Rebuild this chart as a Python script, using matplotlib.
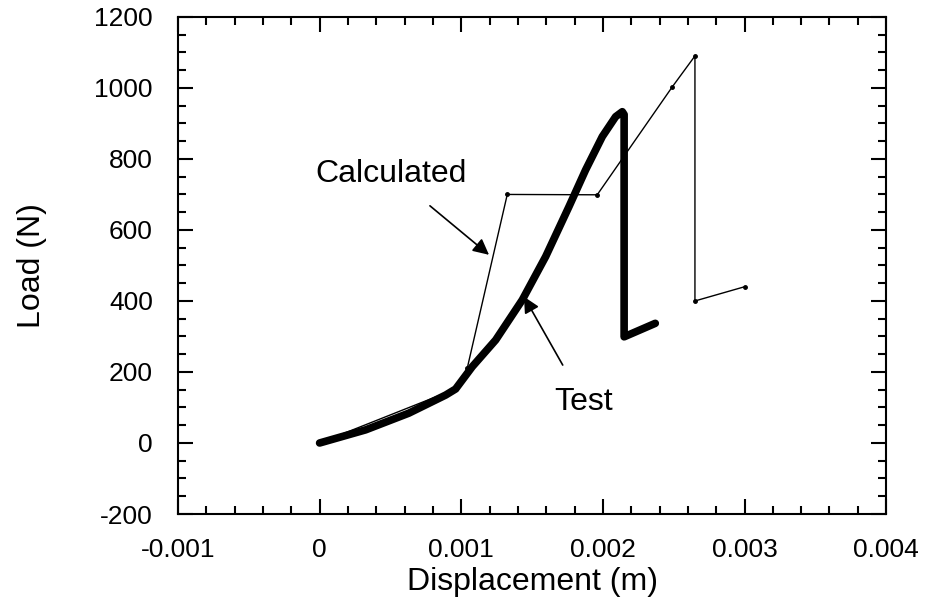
import matplotlib
matplotlib.use("Agg")
import matplotlib.pyplot as plt
from matplotlib.ticker import MultipleLocator

plt.rcParams['font.family'] = ['Liberation Sans', 'DejaVu Sans']

# test curve (thick)
test_x = [0.0, 0.000325, 0.00063, 0.00089, 0.00096, 0.001078, 0.001243, 0.001431, 0.001596,
          0.001761, 0.001878, 0.001996, 0.00209, 0.002137, 0.00215, 0.00215, 0.00237]
test_y = [0, 37, 84, 135, 152, 215, 290, 403, 525, 666, 769, 863, 919, 933, 925, 299, 337]

# calculated curve (thin)
calc_x = [0.0, 0.00096, 0.001042, 0.001325, 0.00196, 0.00249, 0.00265, 0.00265, 0.00300]
calc_y = [0, 152, 210, 700, 699, 1003, 1090, 400, 440]

xticks = [-0.001, 0, 0.001, 0.002, 0.003, 0.004]
xlabels = ['-0.001', '0', '0.001', '0.002', '0.003', '0.004']
yticks = [-200, 0, 200, 400, 600, 800, 1000, 1200]

fig = plt.figure(figsize=(9.25, 6.04), dpi=100)
ax = fig.add_axes([0.1924, 0.149, 0.7656, 0.823])

ax.plot(calc_x, calc_y, color='black', lw=1.0, marker='o', ms=2.5)
ax.plot(test_x, test_y, color='black', lw=5.5, solid_capstyle='round', solid_joinstyle='round')

ax.set_xlim(-0.001, 0.004)
ax.set_ylim(-200, 1200)
ax.set_xticks(xticks)
ax.set_xticklabels(xlabels)
ax.set_yticks(yticks)
ax.set_yticklabels([str(v) for v in yticks])
ax.xaxis.set_minor_locator(MultipleLocator(0.0002))
ax.yaxis.set_minor_locator(MultipleLocator(50))

ax.tick_params(which='both', direction='in', top=True, right=True, width=1.5, labelsize=19)
ax.tick_params(which='major', length=11)
ax.tick_params(which='minor', length=6)
ax.tick_params(axis='x', which='major', pad=17)
ax.tick_params(axis='y', which='major', pad=18)
for s in ax.spines.values():
    s.set_linewidth(1.5)

ax.set_xlabel('Displacement (m)', fontsize=23, labelpad=4)
ax.set_ylabel('Load (N)', fontsize=23, labelpad=34)

ax.annotate('Calculated', xy=(0.001196, 530), xytext=(0.000507, 758), fontsize=23,
            ha='center', va='center',
            arrowprops=dict(arrowstyle='-|>', color='black', lw=1.2, mutation_scale=24,
                            shrinkA=16, shrinkB=0))
ax.annotate('Test', xy=(0.001443, 412), xytext=(0.001865, 115), fontsize=23,
            ha='center', va='center',
            arrowprops=dict(arrowstyle='-|>', color='black', lw=1.2, mutation_scale=24,
                            shrinkA=16, shrinkB=0))

fig.savefig('out.png', dpi=100)
